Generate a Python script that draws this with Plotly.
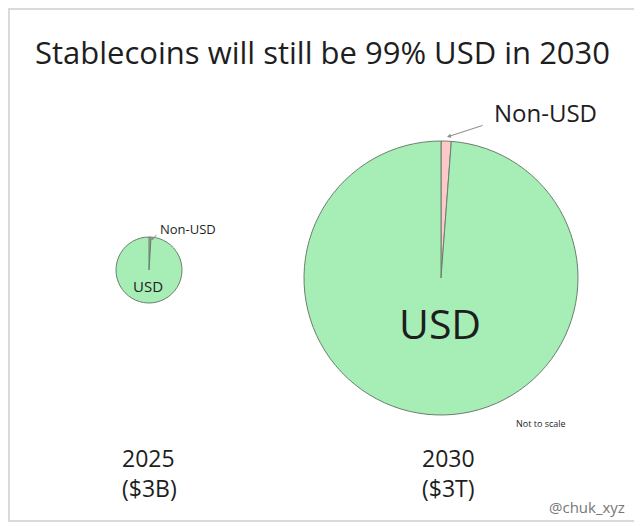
import plotly.graph_objects as go

W, H = 642, 527
OFF = 8  # page body margin of the browser

labels = ["Non-USD", "USD"]
share_2025 = [1, 99]
share_2030 = [1.2, 98.8]

years = ["2025", "2030"]
sizes = ["($3B)", "($3T)"]

FONT = "Open Sans"
GREEN = "#a6edb6"
PINK = "#ffc9c9"
INK = "#1e1e1e"


def px(x):
    return (x - OFF) / W


def py(y):
    return 1 - (y - OFF) / H


fig = go.Figure()

# small pie (2025) and big pie (2030), domains set in screen pixels
fig.add_trace(go.Pie(
    labels=labels, values=share_2025, sort=False, direction="clockwise", rotation=0,
    marker=dict(colors=[PINK, GREEN], line=dict(color="#6b7f6f", width=1)),
    textinfo="none", hoverinfo="label+percent", showlegend=False,
    domain=dict(x=[px(116), px(182)], y=[py(303), py(237)]),
))
fig.add_trace(go.Pie(
    labels=labels, values=share_2030, sort=False, direction="clockwise", rotation=0,
    marker=dict(colors=[PINK, GREEN], line=dict(color="#6b7f6f", width=1)),
    textinfo="none", hoverinfo="label+percent", showlegend=False,
    domain=dict(x=[px(303), px(579)], y=[py(415), py(141)]),
))

ann = []
ann.append(dict(x=px(322), y=py(52), text="Stablecoins will still be 99% USD in 2030",
                font=dict(size=31, color=INK)))
# small pie labels
ann.append(dict(x=px(188), y=py(229), text="Non-USD", font=dict(size=13, color=INK)))
ann.append(dict(x=px(148), y=py(286), text="USD", font=dict(size=15, color=INK)))
ann.append(dict(x=px(151), y=py(240), ax=7, ay=-6, text="", showarrow=True, arrowhead=2,
                arrowsize=0.6, arrowwidth=1, arrowcolor="#8a8a8a"))
# big pie labels
ann.append(dict(x=px(545), y=py(113), text="Non-USD", font=dict(size=24, color=INK)))
ann.append(dict(x=px(447), y=py(137), ax=37, ay=-12, text="", showarrow=True, arrowhead=2,
                arrowsize=0.8, arrowwidth=1, arrowcolor="#8a8a8a"))
ann.append(dict(x=px(440), y=py(323), text="USD", font=dict(size=41, color=INK)))
ann.append(dict(x=px(541), y=py(423), text="Not to scale", font=dict(size=9, color=INK)))
# year captions
for xl, yr, sz in zip([120, 420], years, sizes):
    ann.append(dict(x=px(xl), y=py(473), xanchor="left", align="left",
                    text=f"{yr}<br>{sz}", font=dict(size=23, color=INK)))
ann.append(dict(x=px(587), y=py(507), text="@chuk_xyz", font=dict(size=15, color="#777777")))

for a in ann:
    a.setdefault("xref", "paper")
    a.setdefault("yref", "paper")
    a.setdefault("xanchor", "center")
    a.setdefault("yanchor", "middle")
    a.setdefault("showarrow", False)
    fig.add_annotation(**a)

# frame
fig.add_shape(type="rect", xref="paper", yref="paper",
              x0=px(9), x1=px(636), y0=py(521), y1=py(9),
              line=dict(color="#dadada", width=2), fillcolor="rgba(0,0,0,0)")

fig.update_layout(
    width=W, height=H,
    margin=dict(l=0, r=0, t=0, b=0),
    paper_bgcolor="white", plot_bgcolor="white",
    font=dict(family=FONT),
)

fig.write_html("out.html")
